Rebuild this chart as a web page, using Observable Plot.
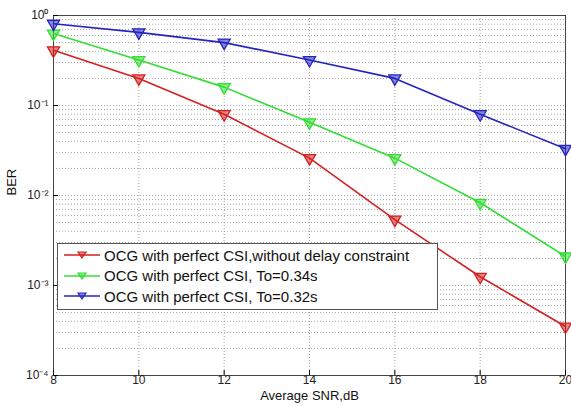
<!DOCTYPE html>
<html><head><meta charset="utf-8">
<script src="https://cdn.jsdelivr.net/npm/d3@7"></script>
<script src="https://cdn.jsdelivr.net/npm/@observablehq/plot@0.6"></script>
<style>
body{margin:0;background:#fff;font-family:"Liberation Sans",Arial,sans-serif}
#wrap{position:relative;width:571px;height:407px}
#legend{position:absolute;left:57px;top:243px;width:381px;height:67px;border:1px solid #555;background:#fff;box-sizing:border-box;font-size:15px;color:#111;padding-top:1px}
#legend .row{height:20.5px;display:flex;align-items:center;margin-left:4px}
#legend svg{margin-right:2px}
</style></head><body>
<div id="wrap"><div id="chart"></div><div id="legend"></div></div>
<script>
const snr = [8, 10, 12, 14, 16, 18, 20];
const seriesNames = ["OCG with perfect CSI,without delay constraint", "OCG with perfect CSI, To=0.34s", "OCG with perfect CSI, To=0.32s"];
const berNoDelay = [0.41, 0.2, 0.08, 0.026, 0.0054, 0.00125, 0.00035];
const berTo034 = [0.63, 0.32, 0.16, 0.065, 0.026, 0.0083, 0.0021];
const berTo032 = [0.81, 0.65, 0.5, 0.32, 0.2, 0.08, 0.033];
const colors = ["#d42020", "#33dd33", "#2424c0"];
const xTicks = [8, 10, 12, 14, 16, 18, 20];
const yTicks = [1e-4, 1e-3, 1e-2, 1e-1, 1];
const yTickLabels = ["10⁻⁴", "10⁻³", "10⁻²", "10⁻¹", "10⁰"];

const allSeries = [berNoDelay, berTo034, berTo032];
const data = [];
allSeries.forEach((vals, i) => vals.forEach((v, j) => data.push({snr: snr[j], ber: v, series: seriesNames[i]})));

const minorY = [];
for (let e = -4; e < 0; e++) for (let m = 1; m < 10; m++) minorY.push(m * Math.pow(10, e));

const chart = Plot.plot({
  width: 571, height: 407,
  marginLeft: 53, marginRight: 6, marginTop: 15, marginBottom: 32,
  style: {fontFamily: "Liberation Sans, Arial, sans-serif", fontSize: "12px", background: "#fff"},
  x: {domain: [8, 20]},
  y: {type: "log", domain: [1e-4, 1]},
  color: {domain: seriesNames, range: colors},
  marks: [
    Plot.gridY(minorY, {stroke: "#888", strokeOpacity: 0.75, strokeDasharray: "1,2"}),
    Plot.gridX(xTicks, {stroke: "#888", strokeOpacity: 0.75, strokeDasharray: "1,2"}),
    Plot.frame({stroke: "#444"}),
    Plot.axisX({ticks: xTicks, tickSize: -5, tickPadding: 5, fontSize: 12, fill: "#222", label: null}),
    Plot.axisY({ticks: yTicks, tickFormat: d => yTickLabels[yTicks.indexOf(d)], tickSize: -5, tickPadding: 10, fontSize: 12, fill: "#222", label: null}),
    Plot.line(data, {x: "snr", y: "ber", stroke: "series", strokeWidth: 1.6}),
    Plot.dot(data, {x: "snr", y: "ber", symbol: "triangle", rotate: 180, r: 4.5, fill: "series", fillOpacity: 0.55, stroke: "series", strokeWidth: 1.3}),
    Plot.text(["Average SNR,dB"], {frameAnchor: "bottom", dy: 24, fontSize: 13, fill: "#111"}),
    Plot.text(["BER"], {frameAnchor: "left", dx: -42, rotate: -90, fontSize: 13, fill: "#111"})
  ]
});
document.getElementById("chart").appendChild(chart);

const leg = document.getElementById("legend");
seriesNames.forEach((name, i) => {
  const row = document.createElement("div");
  row.className = "row";
  row.innerHTML = `<svg width="40" height="12"><line x1="2" y1="6" x2="38" y2="6" stroke="${colors[i]}" stroke-width="1.6"/><path d="M16,3 L24,3 L20,9 Z" fill="${colors[i]}" fill-opacity="0.55" stroke="${colors[i]}" stroke-width="1.2"/></svg><span>${name}</span>`;
  leg.appendChild(row);
});
</script>
</body></html>
